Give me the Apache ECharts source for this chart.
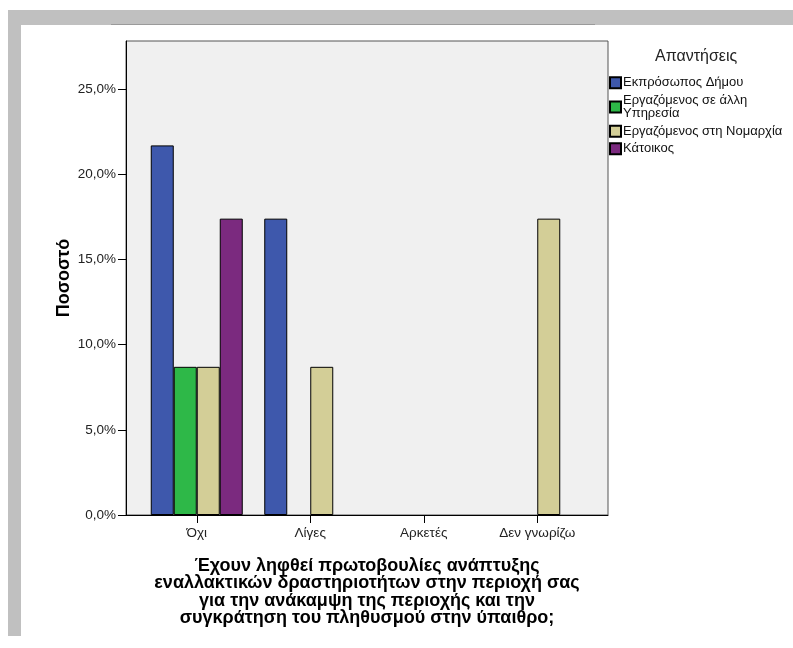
<!DOCTYPE html>
<html>
<head>
<meta charset="utf-8">
<script src="https://cdn.jsdelivr.net/npm/echarts@6/dist/echarts.min.js"></script>
<style>
  html, body { margin: 0; padding: 0; background: #fff; }
  #chart { width: 793px; height: 648px; }
</style>
</head>
<body>
<div id="chart"></div>
<script>
const FONT = "'Liberation Sans', Arial, sans-serif";

const CATEGORIES = ["Όχι", "Λίγες", "Αρκετές", "Δεν γνωρίζω"];
const Y_TICKS = [0, 5, 10, 15, 20, 25];
const Y_MAX = 27.83;

// percent of respondents, null = no bar
const DIMOS     = [21.7, 17.4, null, null];
const ALLI      = [8.7, null, null, null];
const NOMARXIA  = [8.7, 8.7, null, 17.4];
const KATOIKOS  = [17.4, null, null, null];

const SERIES_NAMES = ["Εκπρόσωπος Δήμου", "Εργαζόμενος σε άλλη Υπηρεσία", "Εργαζόμενος στη Νομαρχία", "Κάτοικος"];
const SERIES_DATA = [DIMOS, ALLI, NOMARXIA, KATOIKOS];
const COLORS = ["#3e58ac", "#2eb848", "#d3ce97", "#7b2a7f"];

const LEGEND_TITLE = "Απαντήσεις";
const Y_TITLE = "Ποσοστό";
const X_TITLE = "Έχουν ληφθεί πρωτοβουλίες ανάπτυξης\nεναλλακτικών δραστηριοτήτων στην περιοχή σας\nγια την ανάκαμψη της περιοχής και την\nσυγκράτηση του πληθυσμού στην ύπαιθρο;";

const chart = echarts.init(document.getElementById("chart"));

const series = SERIES_NAMES.map((name, i) => ({
  name,
  type: "bar",
  xAxisIndex: 1,
  yAxisIndex: 1,
  barWidth: 23,
  barGap: "0%",
  itemStyle: { color: COLORS[i], borderColor: "#000", borderWidth: 1 },
  data: SERIES_DATA[i],
}));

chart.setOption({
  animation: false,
  textStyle: { fontFamily: FONT },
  graphic: [
    { type: "rect", shape: { x: 8, y: 10, width: 785, height: 15 }, style: { fill: "#c0c0c0" }, silent: true },
    { type: "rect", shape: { x: 8, y: 10, width: 13, height: 626 }, style: { fill: "#c0c0c0" }, silent: true },
    { type: "line", shape: { x1: 111, y1: 24.5, x2: 595, y2: 24.5 }, style: { stroke: "#9a9a9a", lineWidth: 1 }, silent: true },
    {
      type: "text", left: 655, top: 49,
      style: { text: LEGEND_TITLE, fontSize: 16, fill: "#222", fontFamily: FONT },
    },
    {
      type: "text", x: 367, y: 557,
      style: {
        text: X_TITLE, fontSize: 18, fontWeight: "bold", fill: "#000",
        fontFamily: FONT, align: "center", lineHeight: 17.5,
      },
    },
  ],
  grid: [
    { left: 126, top: 41, right: 185, bottom: 133, show: true, backgroundColor: "#f0f0f0", borderColor: "#555", borderWidth: 1 },
    { left: 140, top: 41, right: 199, bottom: 133 },
  ],
  legend: {
    orient: "vertical",
    left: 609,
    top: 76,
    padding: 0,
    icon: "rect",
    itemWidth: 11,
    itemHeight: 11,
    itemGap: 4,
    align: "left",
    textStyle: { fontSize: 13, color: "#111", fontFamily: FONT, lineHeight: 13.5, padding: [0, 0, 0, -3] },
    formatter: name => name.replace(" Υπηρεσία", "\nΥπηρεσία"),
    data: SERIES_NAMES,
  },
  xAxis: [
    {
      gridIndex: 0, type: "value", min: 0, max: 1,
      axisLine: { show: true, lineStyle: { color: "#000", width: 1 } },
      axisTick: { show: false }, axisLabel: { show: false }, splitLine: { show: false },
    },
    {
      gridIndex: 1, type: "category", data: CATEGORIES,
      axisLine: { show: false },
      axisTick: { show: true, alignWithLabel: true, length: 8, lineStyle: { color: "#000" } },
      axisLabel: { fontSize: 13.5, color: "#222", margin: 11 },
    },
  ],
  yAxis: [
    {
      gridIndex: 0, type: "value", min: 0, max: Y_MAX,
      name: Y_TITLE, nameLocation: "middle", nameGap: 53, nameMoveOverlap: false,
      nameTextStyle: { fontSize: 18, fontWeight: "bold", color: "#000" },
      axisLine: { show: true, lineStyle: { color: "#000", width: 1 } },
      axisTick: { show: true, length: 8, customValues: Y_TICKS, lineStyle: { color: "#000" } },
      axisLabel: {
        fontSize: 13.5, color: "#222", margin: 10, customValues: Y_TICKS,
        formatter: v => v.toFixed(1).replace(".", ",") + "%",
      },
      splitLine: { show: false },
    },
    {
      gridIndex: 1, type: "value", min: 0, max: Y_MAX, show: false,
    },
  ],
  series,
});
</script>
</body>
</html>
